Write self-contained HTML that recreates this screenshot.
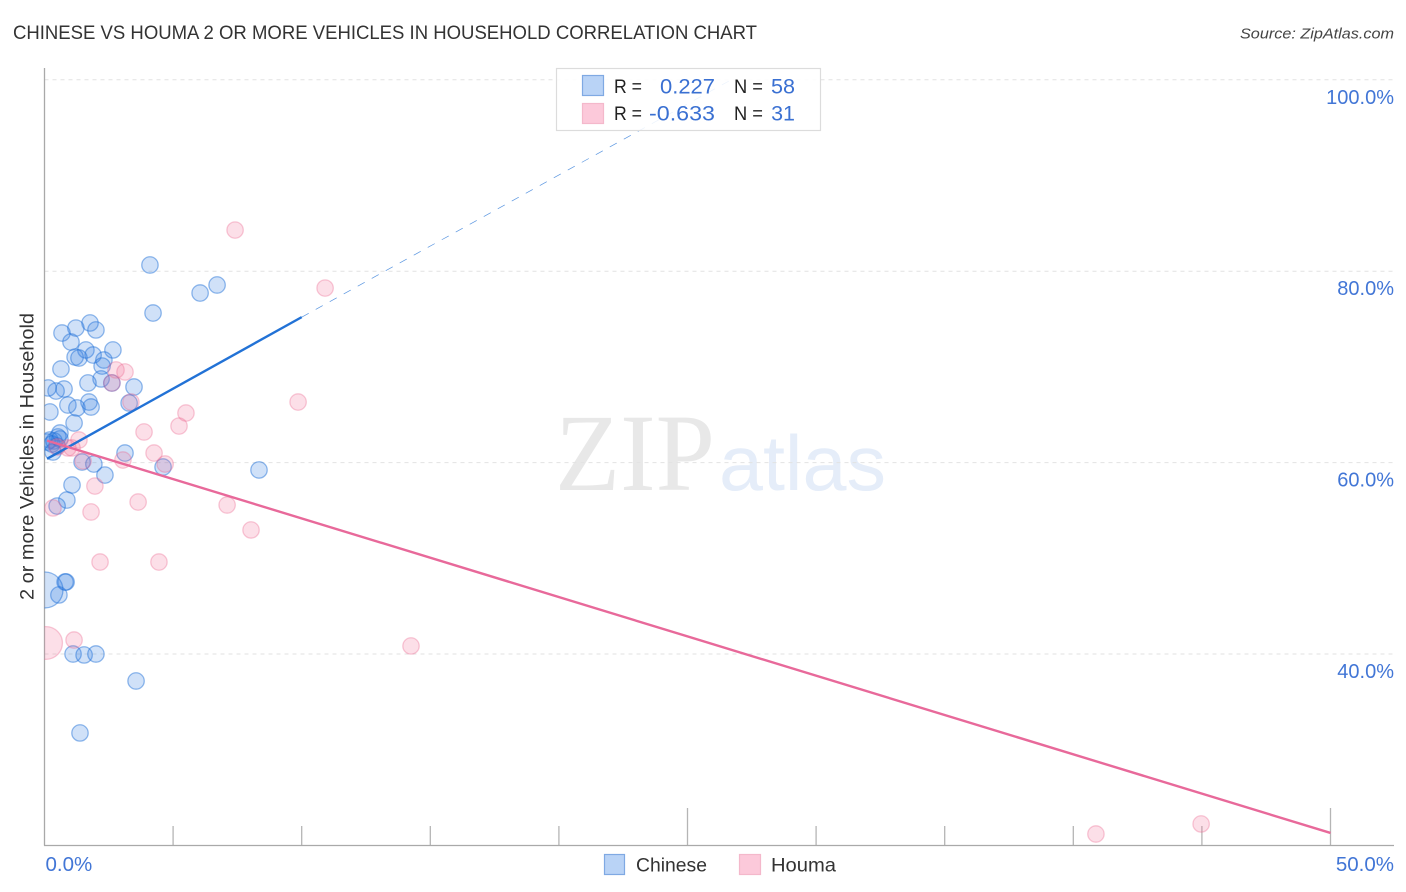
<!DOCTYPE html>
<html lang="en">
<head>
<meta charset="utf-8">
<title>Chinese vs Houma 2 or more Vehicles in Household Correlation Chart</title>
<style>
  html, body { margin: 0; padding: 0; background: #fff; }
  svg { display: block; font-family: "Liberation Sans", sans-serif; }
</style>
</head>
<body>
<svg id="chart" width="1406" height="892" viewBox="0 0 1406 892" xmlns="http://www.w3.org/2000/svg">
  <defs>
    <clipPath id="plot-clip"><rect x="44.5" y="60" width="1350" height="785"></rect></clipPath>
  </defs>
  <rect x="0" y="0" width="1406" height="892" fill="#fff"></rect>

  <text x="13" y="39" font-size="19.5" fill="#333" textLength="744" lengthAdjust="spacingAndGlyphs">CHINESE VS HOUMA 2 OR MORE VEHICLES IN HOUSEHOLD CORRELATION CHART</text>
  <text x="1394" y="38.5" font-size="15" font-style="italic" fill="#444" text-anchor="end" textLength="154" lengthAdjust="spacingAndGlyphs">Source: ZipAtlas.com</text>

  <text x="555" y="490" font-family="'Liberation Serif', serif" font-size="110" fill="#e8e8e8" textLength="160" lengthAdjust="spacingAndGlyphs">ZIP</text>
  <text x="719" y="490" font-size="78" fill="#e5edf9" textLength="167" lengthAdjust="spacingAndGlyphs">atlas</text>

  <g id="grid"></g>
  <g id="y-labels"></g>
  <g id="x-ticks"></g>

  <line x1="44.5" y1="68" x2="44.5" y2="845.5" stroke="#a9a9a9" stroke-width="1.3"></line>
  <line x1="44" y1="845.5" x2="1394" y2="845.5" stroke="#a9a9a9" stroke-width="1.3"></line>

  <g id="points" clip-path="url(#plot-clip)"></g>
  <g id="trends"></g>

  <text transform="translate(33.5,456.5) rotate(-90)" font-size="19.5" fill="#333" text-anchor="middle" textLength="287" lengthAdjust="spacingAndGlyphs">2 or more Vehicles in Household</text>

  <g id="x-labels"></g>

  <g>
    <rect x="556.5" y="68.5" width="264" height="62" fill="#fff" fill-opacity="0.88" stroke="#dcdcdc" stroke-width="1.2"></rect>
    <rect x="582.5" y="75.5" width="21" height="20" fill="#b9d3f6" stroke="#7fa9e3" stroke-width="1.2"></rect>
    <rect x="582.5" y="103.5" width="21" height="20" fill="#fcc9da" stroke="#f4b8cb" stroke-width="1.2"></rect>
    <text x="614" y="93" font-size="19" fill="#222" textLength="28" lengthAdjust="spacingAndGlyphs">R =</text>
    <text x="715" y="93.5" font-size="21.5" fill="#3a70d2" text-anchor="end" textLength="55" lengthAdjust="spacingAndGlyphs">0.227</text>
    <text x="734" y="93" font-size="19" fill="#222" textLength="29" lengthAdjust="spacingAndGlyphs">N =</text>
    <text x="795" y="93.5" font-size="21.5" fill="#3a70d2" text-anchor="end" textLength="24" lengthAdjust="spacingAndGlyphs">58</text>
    <text x="614" y="120" font-size="19" fill="#222" textLength="28" lengthAdjust="spacingAndGlyphs">R =</text>
    <text x="715" y="120.5" font-size="21.5" fill="#3a70d2" text-anchor="end" textLength="66" lengthAdjust="spacingAndGlyphs">-0.633</text>
    <text x="734" y="120" font-size="19" fill="#222" textLength="29" lengthAdjust="spacingAndGlyphs">N =</text>
    <text x="795" y="120.5" font-size="21.5" fill="#3a70d2" text-anchor="end">31</text>
  </g>

  <g>
    <rect x="604.5" y="854.5" width="20" height="20" fill="#b9d3f6" stroke="#7fa9e3" stroke-width="1.2"></rect>
    <text x="636" y="871.5" font-size="19.5" fill="#333" textLength="71" lengthAdjust="spacingAndGlyphs">Chinese</text>
    <rect x="739.5" y="854.5" width="21" height="20" fill="#fcc9da" stroke="#f4b8cb" stroke-width="1.2"></rect>
    <text x="771" y="871.5" font-size="19.5" fill="#333" textLength="65" lengthAdjust="spacingAndGlyphs">Houma</text>
  </g>
</svg>

<script>
const yTickValues = [40, 60, 80, 100];
const yTickLabels = ["40.0%", "60.0%", "80.0%", "100.0%"];
const xTickValues = [0, 5, 10, 15, 20, 25, 30, 35, 40, 45, 50];
const xEndValues = [0, 50];
const xEndLabels = ["0.0%", "50.0%"];

const chineseX = [4.10, 6.71, 6.05, 4.22, 1.77, 2.00, 1.22, 0.68, 1.03, 1.61, 2.66, 1.89, 1.19, 1.34, 2.31, 2.24, 0.64, 2.20, 1.69, 2.62, 3.48, 0.76, 0.45, 0.14, 3.29, 0.91, 1.73, 1.26, 1.81, 0.21, 1.15, 0.60, 3.13, 4.61, 1.46, 1.92, 8.34, 2.35, 1.07, 0.87, 0.49, 0.84, 0.80, 0.56, 0.02, 1.11, 1.54, 2.00, 3.56, 1.38, 0.21, 0.37, 0.10, 0.52, 0.29, 0.49, 0.60, 0.33];
const chineseY = [80.65, 78.56, 77.72, 75.63, 74.59, 73.86, 74.06, 73.54, 72.60, 71.77, 71.77, 71.24, 71.03, 70.93, 70.72, 70.09, 69.78, 68.74, 68.32, 68.32, 67.90, 67.69, 67.48, 67.80, 66.23, 66.02, 66.33, 65.71, 65.81, 65.29, 64.14, 63.09, 61.00, 59.54, 60.06, 59.85, 59.23, 58.70, 57.66, 56.09, 55.46, 47.52, 47.52, 46.17, 46.69, 40.00, 39.90, 40.00, 37.18, 31.75, 62.36, 62.26, 62.15, 62.68, 61.94, 61.73, 62.47, 61.11];
const chineseWeight = [1, 1, 1, 1, 1, 1, 1, 1, 1, 1, 1, 1, 1, 1, 1, 1, 1, 1, 1, 1, 1, 1, 1, 1, 1, 1, 1, 1, 1, 1, 1, 1, 1, 1, 1, 1, 1, 1, 1, 1, 1, 1, 1, 1, 4.8, 1, 1, 1, 1, 1, 1, 1, 1, 1, 1, 1, 1, 1];

const houmaX = [7.41, 10.91, 9.86, 2.78, 3.13, 2.62, 3.36, 5.50, 5.23, 3.87, 1.34, 0.91, 1.07, 0.49, 1.50, 3.05, 4.26, 4.69, 1.96, 3.64, 7.10, 0.33, 1.81, 8.03, 2.16, 4.45, 1.15, 0.06, 14.25, 40.88, 44.97];
const houmaY = [84.30, 78.24, 66.33, 69.68, 69.47, 68.32, 66.33, 65.18, 63.82, 63.20, 62.36, 61.53, 61.53, 61.63, 60.17, 60.27, 61.00, 59.85, 57.55, 55.88, 55.57, 55.26, 54.84, 52.96, 49.61, 49.61, 41.46, 41.15, 40.84, 21.19, 22.24];
const houmaWeight = [1, 1, 1, 1, 1, 1, 1, 1, 1, 1, 1, 1, 1, 1, 1, 1, 1, 1, 1, 1, 1, 1, 1, 1, 1, 1, 1, 4, 1, 1, 1];

const chineseTrendX = [0.1, 10];
const chineseTrendY = [60.4, 75.2];
const chineseDashX = [10, 26.7];
const chineseDashY = [75.2, 100];
const houmaTrendX = [0.1, 50];
const houmaTrendY = [62.3, 21.3];

const SVG_NS = "http://www.w3.org/2000/svg";
function xScale(v) { return 44.5 + v * 25.72; }
function yScale(v) { return 654 - (v - 40) * 9.57; }
function make(tag, parent, attrs) {
  const el = document.createElementNS(SVG_NS, tag);
  Object.keys(attrs).forEach(function (k) { el.setAttribute(k, attrs[k]); });
  parent.appendChild(el);
  return el;
}

const grid = document.getElementById("grid");
const yLabels = document.getElementById("y-labels");
yTickValues.forEach(function (v, i) {
  const line = make("line", grid, { x1: 44.5, x2: 1394, y1: yScale(v), y2: yScale(v), stroke: "#e2e2e2", "stroke-width": 1, "stroke-dasharray": "4 4" });
  
  
  const label = make("text", yLabels, { x: 1394, y: yScale(v) + 24, "font-size": 20, fill: "#4276d6", "text-anchor": "end" });
  label.textContent = yTickLabels[i];
  
  
});

const xTicks = document.getElementById("x-ticks");
xTickValues.forEach(function (v) {
  if (v === 0) return;
  const major = v % 25 === 0;
  const tick = make("line", xTicks, { x1: xScale(v), x2: xScale(v), y1: major ? 808 : 826, y2: 845, stroke: "#b5b5b5", "stroke-width": 1.3 });
  
  
});

const xLabels = document.getElementById("x-labels");
xEndValues.forEach(function (v, i) {
  const first = i === 0;
  const label = make("text", xLabels, { x: first ? xScale(v) + 1 : 1394, y: 871, "font-size": 20.5, fill: "#4276d6", "text-anchor": first ? "start" : "end" });
  label.textContent = xEndLabels[i];
  
  
});

const points = document.getElementById("points");
function drawSeries(xs, ys, weights, fill, stroke, name) {
  xs.forEach(function (x, i) {
    const c = make("circle", points, { cx: xScale(x), cy: yScale(ys[i]), r: 8.2 * Math.sqrt(weights[i]), fill: fill, stroke: stroke, "stroke-width": 1.3 });
    
    
  });
}
drawSeries(chineseX, chineseY, chineseWeight, "rgba(50,125,225,0.23)", "rgba(30,110,215,0.48)", "chinese-point");
drawSeries(houmaX, houmaY, houmaWeight, "rgba(240,110,150,0.22)", "rgba(235,100,140,0.34)", "houma-point");

const trends = document.getElementById("trends");
const chineseDash = make("line", trends, { x1: xScale(chineseDashX[0]), y1: yScale(chineseDashY[0]), x2: xScale(chineseDashX[1]), y2: yScale(chineseDashY[1]), stroke: "#2272d6", "stroke-width": 0.7, "stroke-dasharray": "8 8", "stroke-opacity": 0.75 });


const chineseLine = make("line", trends, { x1: xScale(chineseTrendX[0]), y1: yScale(chineseTrendY[0]), x2: xScale(chineseTrendX[1]), y2: yScale(chineseTrendY[1]), stroke: "#2272d6", "stroke-width": 2.4 });


const houmaLine = make("line", trends, { x1: xScale(houmaTrendX[0]), y1: yScale(houmaTrendY[0]), x2: xScale(houmaTrendX[1]), y2: yScale(houmaTrendY[1]), stroke: "#e8699a", "stroke-width": 2.4 });


</script>
</body>
</html>
